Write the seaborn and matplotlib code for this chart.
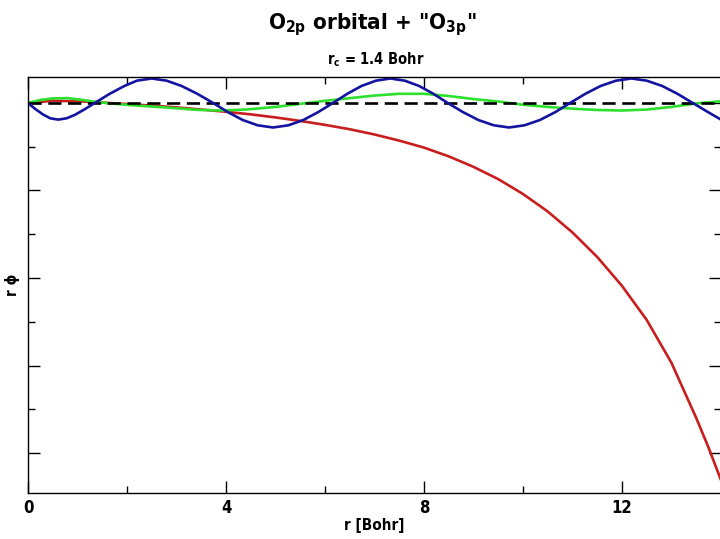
import matplotlib
matplotlib.use("Agg")
import matplotlib.pyplot as plt
from matplotlib.ticker import MultipleLocator
import seaborn as sns

# ---- data ----
blue_x = [0.0, 0.15, 0.3, 0.45, 0.61, 0.78, 0.95, 1.15, 1.35,
          1.65, 1.95, 2.2, 2.5, 2.8, 3.1, 3.42, 3.74,
          4.04, 4.34, 4.64, 4.95, 5.26, 5.56, 5.86, 6.16,
          6.45, 6.74, 7.03, 7.32, 7.61, 7.9, 8.19, 8.48,
          8.79, 9.1, 9.41, 9.72, 10.03, 10.34, 10.65, 10.95,
          11.26, 11.57, 11.88, 12.19, 12.5, 12.81, 13.12, 13.43,
          13.74, 14.0]
blue_y = [0.0, -0.07, -0.13, -0.175, -0.19, -0.175, -0.135, -0.07, 0.0,
          0.105, 0.195, 0.255, 0.28, 0.255, 0.195, 0.105, 0.0,
          -0.105, -0.195, -0.255, -0.28, -0.255, -0.195, -0.105, 0.0,
          0.105, 0.195, 0.255, 0.28, 0.255, 0.195, 0.105, 0.0,
          -0.105, -0.195, -0.255, -0.28, -0.255, -0.195, -0.105, 0.0,
          0.105, 0.195, 0.255, 0.28, 0.255, 0.195, 0.105, 0.0,
          -0.105, -0.19]

green_x = [0.0, 0.25, 0.5, 0.8, 1.1, 1.4, 1.8, 2.2, 2.8, 3.4, 3.9, 4.4,
           5.0, 5.5, 6.0, 6.5, 7.0, 7.5, 8.0, 8.5, 9.0, 9.5, 10.0, 10.5,
           11.0, 11.5, 12.0, 12.5, 13.0, 13.5, 14.0]
green_y = [0.0, 0.035, 0.052, 0.056, 0.035, 0.01, -0.012, -0.03, -0.052,
           -0.078, -0.086, -0.075, -0.045, -0.01, 0.025, 0.055, 0.085,
           0.105, 0.105, 0.08, 0.045, 0.017, -0.02, -0.045, -0.065, -0.08,
           -0.086, -0.075, -0.045, -0.005, 0.02]

red_x = [0.0, 0.5, 1.0, 1.5, 2.0, 2.5, 3.0, 3.5, 4.0, 4.5, 5.0, 5.5, 6.0,
         6.5, 7.0, 7.5, 8.0, 8.5, 9.0, 9.5, 10.0, 10.5, 11.0, 11.5, 12.0,
         12.5, 13.0, 13.5, 13.75, 14.0]
red_y = [0.0, 0.025, 0.02, 0.005, -0.012, -0.03, -0.05, -0.075, -0.1, -0.13,
         -0.165, -0.205, -0.25, -0.3, -0.36, -0.43, -0.51, -0.61, -0.73,
         -0.87, -1.04, -1.24, -1.48, -1.76, -2.09, -2.48, -2.97, -3.6,
         -3.94, -4.31]

dash_x = [0.0, 14.0]
dash_y = [0.0, 0.0]

x_ticks = [0, 4, 8, 12]
x_ticklabels = ["0", "4", "8", "12"]

title_text = 'O$_{\\mathbf{2p}}$ orbital + "O$_{\\mathbf{3p}}$"'
subtitle_text = "r$_{\\mathbf{c}}$ = 1.4 Bohr"
xlabel_text = "r [Bohr]"
ylabel_text = "r \u03d5"

# ---- styling ----
sns.set_theme(style="ticks")
fam = ["DejaVu Sans"]
plt.rcParams["font.family"] = fam
plt.rcParams["font.stretch"] = "condensed"
plt.rcParams["text.color"] = "black"
plt.rcParams["axes.labelcolor"] = "black"
plt.rcParams["xtick.color"] = "black"
plt.rcParams["ytick.color"] = "black"
plt.rcParams["mathtext.fontset"] = "custom"
plt.rcParams["mathtext.rm"] = "DejaVu Sans:weight=bold:stretch=condensed"
plt.rcParams["mathtext.bf"] = "DejaVu Sans:weight=bold:stretch=condensed"
plt.rcParams["mathtext.default"] = "bf"

fig = plt.figure(figsize=(7.2, 5.39), dpi=100)
ax = fig.add_axes([28 / 720, 46 / 539, 693 / 720, 416 / 539])

sns.lineplot(x=red_x, y=red_y, ax=ax, color="#c81e1e", lw=1.9)
sns.lineplot(x=green_x, y=green_y, ax=ax, color="#2ee02e", lw=1.9)
sns.lineplot(x=dash_x, y=dash_y, ax=ax, color="black", lw=1.9,
             linestyle=(0, (5, 2.5)))
sns.lineplot(x=blue_x, y=blue_y, ax=ax, color="#1414a0", lw=1.9)

ax.set_xlim(0, 14)
ax.set_ylim(-4.457, 0.297)

ax.set_xticks(x_ticks)
ax.set_xticklabels(x_ticklabels, fontweight="bold", fontsize=12)
ax.xaxis.set_minor_locator(MultipleLocator(2))
ax.yaxis.set_major_locator(MultipleLocator(1))
ax.yaxis.set_minor_locator(MultipleLocator(0.5))
ax.set_yticklabels([])
ax.tick_params(which="both", direction="in", top=True, right=True,
               width=1.0, color="black")
ax.tick_params(which="major", length=8.5, pad=4)
ax.tick_params(which="minor", length=5)
for s in ax.spines.values():
    s.set_linewidth(1.0)
    s.set_color("black")

ax.set_xlabel(xlabel_text, fontweight="bold", fontsize=11, labelpad=1)
ax.set_ylabel(ylabel_text, fontweight="bold", fontsize=11, labelpad=2)

cx = 372 / 720
fig.text(cx, 1 - 29 / 539, title_text, ha="center", va="baseline",
         fontsize=16, fontweight="bold")
fig.text(cx + 4 / 720, 1 - 64 / 539, subtitle_text, ha="center",
         va="baseline", fontsize=10.5, fontweight="bold")

fig.savefig("out.png", dpi=100)
